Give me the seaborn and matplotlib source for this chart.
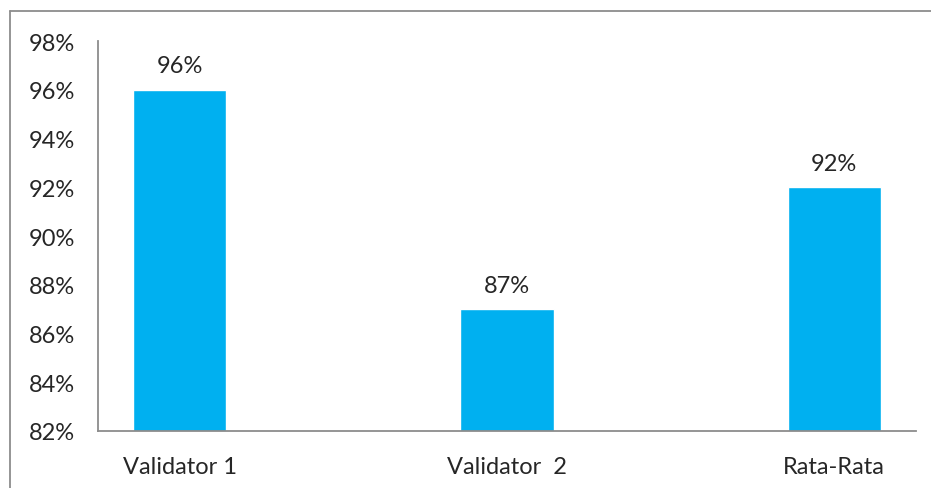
import numpy as np
import pandas as pd
import seaborn as sns
import matplotlib.pyplot as plt
from matplotlib.lines import Line2D

categories = ["Validator 1", "Validator  2", "Rata-Rata"]
values = [96, 87, 92]
y_ticks = [82, 84, 86, 88, 90, 92, 94, 96, 98]

sns.set_style("white")
plt.rcParams['font.family'] = ['Lato', 'DejaVu Sans']

df = pd.DataFrame({"kategori": categories, "nilai": values})

fig = plt.figure(figsize=(9.31, 4.89), dpi=100)
ax = fig.add_axes([98/931, 1-432/489, (916-98)/931, (432-42)/489])

sns.barplot(data=df, x="kategori", y="nilai", color="#00B0F0", width=0.285,
            saturation=1, ax=ax)
ax.set_ylim(82, 98)
ax.set_xlim(-0.25, 2.25)
ax.set_yticks(y_ticks)
ax.set_yticklabels([f"{t}%" for t in y_ticks], fontsize=17)
ax.tick_params(axis="x", labelsize=17, pad=18, length=0)
ax.tick_params(axis="y", pad=50, length=0)
for lab in ax.get_yticklabels():
    lab.set_horizontalalignment("left")
ax.set_xlabel("")
ax.set_ylabel("")

for s in ["top", "right"]:
    ax.spines[s].set_visible(False)
for s in ["left", "bottom"]:
    ax.spines[s].set_color("#8c8c8c")
    ax.spines[s].set_linewidth(1.3)

for i, v in enumerate(values):
    ax.text(i, v + 0.55, f"{v}%", ha="center", va="bottom", fontsize=17)

# chart border (cropped: only left and top edges visible)
fig.add_artist(Line2D([10/931, 10/931], [0, 1-12/489], color="#8c8c8c", lw=1.3,
                      transform=fig.transFigure))
fig.add_artist(Line2D([10/931, 1], [1-12/489, 1-12/489], color="#8c8c8c", lw=1.3,
                      transform=fig.transFigure))

fig.savefig("out.png", dpi=100)
